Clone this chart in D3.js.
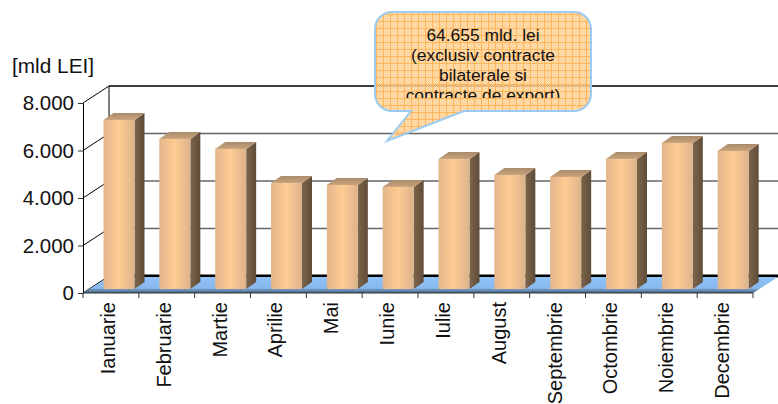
<!DOCTYPE html>
<html>
<head>
<meta charset="utf-8">
<script src="https://cdn.jsdelivr.net/npm/d3@7"></script>
<style>
  html, body { margin: 0; padding: 0; background: #fff; }
  text { font-family: "Liberation Sans", Arial, sans-serif; fill: #111; }
</style>
</head>
<body>
<svg id="chart" width="778" height="404"></svg>
<script>
  var months = ["Ianuarie", "Februarie", "Martie", "Aprilie", "Mai", "Iunie", "Iulie", "August", "Septembrie", "Octombrie", "Noiembrie", "Decembrie"];
  var values = [7120, 6320, 5900, 4460, 4380, 4300, 5470, 4800, 4720, 5470, 6150, 5810];
  var yTicks = [0, 2000, 4000, 6000, 8000];
  var unitLabel = "[mld LEI]";
  var noteLines = ["64.655 mld. lei", "(exclusiv contracte", "bilaterale si", "contracte de export)"];

  var depth = { x: 26, y: -17 };      // wall offset of the fake 3d box
  var barDepth = { x: 10, y: -7 };
  var barInset = { x: 20.5, y: -4 };
  var barWidth = 31;
  var right = 778;

  var svg = d3.select("#chart");

  var x = d3.scaleBand().domain(months).range([83, 753]);
  var y = d3.scaleLinear().domain([0, 8000]).range([293, 103]);

  var defs = svg.append("defs");

  function gradient(id, horizontal, stops) {
    var g = defs.append("linearGradient").attr("id", id)
      .attr("x1", 0).attr("y1", 0)
      .attr("x2", horizontal ? 1 : 0).attr("y2", horizontal ? 0 : 1);
    stops.forEach(function (s) {
      g.append("stop").attr("offset", s[0]).attr("stop-color", s[1]);
    });
  }
  gradient("barFront", true, [[0, "#e2b68c"], [0.5, "#ffcb92"], [1, "#dcb38b"]]);
  gradient("barSide", true, [[0, "#7d654b"], [1, "#5f4c39"]]);
  gradient("barTop", false, [[0, "#a98b6a"], [1, "#c8a37c"]]);
  gradient("floor", false, [[0, "#8fc3fa"], [0.7, "#88b8ec"], [0.78, "#6f98c4"], [1, "#46627e"]]);

  // callout texture: small checker with a coarser grid on top
  var pattern = defs.append("pattern").attr("id", "noteFill")
    .attr("patternUnits", "userSpaceOnUse")
    .attr("x", 376).attr("y", 14)
    .attr("width", 7).attr("height", 7);
  pattern.append("rect").attr("width", 7).attr("height", 7).attr("fill", "#ffc375").attr("fill-opacity", 0.75);
  d3.range(7).forEach(function (i) {
    d3.range(7).forEach(function (j) {
      if ((i + j) % 2 === 0) {
        pattern.append("rect").attr("x", i).attr("y", j).attr("width", 1).attr("height", 1)
          .attr("fill", "#ffe2b8").attr("fill-opacity", 0.7);
      }
    });
  });
  pattern.append("rect").attr("width", 7).attr("height", 1).attr("fill", "#ffae4c").attr("fill-opacity", 0.8);
  pattern.append("rect").attr("width", 1).attr("height", 7).attr("fill", "#ffae4c").attr("fill-opacity", 0.8);

  defs.append("clipPath").attr("id", "noteClip")
    .append("rect").attr("x", 374).attr("y", 14).attr("width", 217).attr("height", 84);

  /* Walls */
  var walls = svg.append("g");
  yTicks.forEach(function (t) {
    var top = t === 8000, floor = t === 0;
    walls.append("line")
      .attr("x1", x.range()[0] + depth.x).attr("x2", right)
      .attr("y1", y(t) + depth.y).attr("y2", y(t) + depth.y)
      .attr("stroke", top || floor ? "#000" : "#666")
      .attr("stroke-width", floor ? 3 : 1.5);
    walls.append("line")
      .attr("x1", x.range()[0]).attr("x2", x.range()[0] + depth.x)
      .attr("y1", y(t)).attr("y2", y(t) + depth.y)
      .attr("stroke", "#000").attr("stroke-width", 1);
  });
  walls.append("line")
    .attr("x1", x.range()[0] + depth.x).attr("x2", x.range()[0] + depth.x)
    .attr("y1", y(8000) + depth.y).attr("y2", y(0) + depth.y)
    .attr("stroke", "#000").attr("stroke-width", 1);

  /* Floor */
  svg.append("path")
    .attr("d", d3.line()([
      [x.range()[0], y(0)],
      [x.range()[0] + depth.x, y(0) + depth.y + 1],
      [right, y(0) + depth.y + 1],
      [x.range()[1], y(0)]
    ]) + "Z")
    .attr("fill", "url(#floor)");

  /* Bars */
  var bars = svg.append("g").selectAll("g")
    .data(months)
    .enter().append("g")
      .attr("transform", function (d) { return "translate(" + (x(d) + barInset.x) + "," + barInset.y + ")"; });

  bars.append("path")
    .attr("fill", "url(#barSide)")
    .attr("d", function (d, i) {
      return d3.line()([
        [barWidth, y(values[i])],
        [barWidth + barDepth.x, y(values[i]) + barDepth.y],
        [barWidth + barDepth.x, y(0) + barDepth.y],
        [barWidth, y(0)]
      ]) + "Z";
    });

  bars.append("path")
    .attr("fill", "url(#barTop)")
    .attr("d", function (d, i) {
      return d3.line()([
        [0, y(values[i])],
        [barDepth.x, y(values[i]) + barDepth.y],
        [barWidth + barDepth.x, y(values[i]) + barDepth.y],
        [barWidth, y(values[i])]
      ]) + "Z";
    });

  bars.append("rect")
    .attr("fill", "url(#barFront)")
    .attr("width", barWidth)
    .attr("y", function (d, i) { return y(values[i]); })
    .attr("height", function (d, i) { return y(0) - y(values[i]); });

  /* Axes */
  var axisY = svg.append("g")
    .attr("transform", "translate(" + x.range()[0] + ",0)")
    .call(d3.axisLeft(y).tickValues(yTicks).tickSize(5).tickPadding(4)
      .tickFormat(function (d) { return d3.format(",")(d).replace(",", "."); }));
  axisY.selectAll("text").attr("font-size", 20.5).style("font-family", null);
  axisY.selectAll("line").attr("stroke", "#333");
  axisY.select(".domain").attr("stroke", "#000");

  var axisX = svg.append("g")
    .attr("transform", "translate(0," + y(0) + ")")
    .call(d3.axisBottom(x).tickSize(0).tickPadding(0));
  axisX.select(".domain").attr("stroke", "#333").attr("d", "M" + x.range()[0] + ",0H" + x.range()[1]);
  axisX.selectAll("text")
    .attr("font-size", 20)
    .attr("text-anchor", "end")
    .attr("dy", null)
    .attr("y", null)
    .attr("transform", "translate(-3,9) rotate(-90) translate(0,7)");

  axisX.selectAll(".edge")
    .data(d3.range(months.length + 1))
    .enter().append("line")
      .attr("class", "edge")
      .attr("x1", function (i) { return x.range()[0] + i * x.step(); })
      .attr("x2", function (i) { return x.range()[0] + i * x.step(); })
      .attr("y1", 0).attr("y2", 5)
      .attr("stroke", "#333");

  svg.append("text")
    .attr("x", 12).attr("y", 73)
    .attr("font-size", 20.8)
    .text(unitLabel);

  /* Callout */
  var note = d3.path();
  var nx0 = 375, nx1 = 591, ny0 = 12, ny1 = 111, nr = 17;
  note.moveTo(nx0 + nr, ny0);
  note.lineTo(nx1 - nr, ny0);
  note.arcTo(nx1, ny0, nx1, ny0 + nr, nr);
  note.lineTo(nx1, ny1 - nr);
  note.arcTo(nx1, ny1, nx1 - nr, ny1, nr);
  note.lineTo(464, ny1);
  note.lineTo(387, 141);
  note.lineTo(411, ny1);
  note.lineTo(nx0 + nr, ny1);
  note.arcTo(nx0, ny1, nx0, ny1 - nr, nr);
  note.lineTo(nx0, ny0 + nr);
  note.arcTo(nx0, ny0, nx0 + nr, ny0, nr);
  note.closePath();

  svg.append("path")
    .attr("d", note.toString())
    .attr("fill", "url(#noteFill)")
    .attr("stroke", "#9ccbf2")
    .attr("stroke-width", 2);

  svg.append("g")
    .attr("clip-path", "url(#noteClip)")
    .selectAll("text")
    .data(noteLines)
    .enter().append("text")
      .attr("x", 483)
      .attr("y", function (d, i) { return 41 + i * 20; })
      .attr("text-anchor", "middle")
      .attr("font-size", 17.4)
      .text(function (d) { return d; });
</script>
</body>
</html>
